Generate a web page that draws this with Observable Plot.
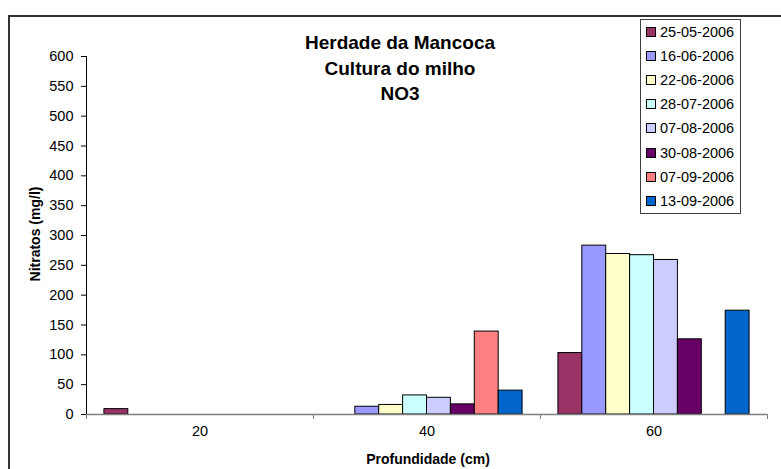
<!DOCTYPE html>
<html>
<head>
<meta charset="utf-8">
<script src="https://cdn.jsdelivr.net/npm/d3@7"></script>
<script src="https://cdn.jsdelivr.net/npm/@observablehq/plot@0.6"></script>
<style>
  html, body { margin: 0; padding: 0; background: #fff; overflow: hidden; }
  #wrap { position: relative; width: 781px; height: 469px; overflow: hidden; font-family: "Liberation Sans", Arial, sans-serif; color: #000; }
  #wrap svg { position: absolute; left: 0; top: 0; }
  .border { position: absolute; left: 8px; top: 15px; width: 900px; height: 600px; border: 2px solid #333; box-sizing: border-box; }
  .title { position: absolute; left: 250px; top: 30px; width: 300px; text-align: center; font-weight: bold; font-size: 19px; line-height: 25.5px; }
  .ylab { position: absolute; left: 34.5px; top: 234px; transform: translate(-50%, -50%) rotate(-90deg); font-weight: bold; font-size: 14px; white-space: nowrap; }
  .xlab { position: absolute; left: 428px; top: 459px; transform: translate(-50%, -50%); font-weight: bold; font-size: 14px; white-space: nowrap; }
  .legend { position: absolute; left: 640px; top: 19px; width: 101px; height: 195px; border: 1px solid #404040; box-sizing: border-box; background: #fff; }
  .item { position: absolute; left: 5px; height: 16px; display: flex; align-items: center; font-size: 14.5px; white-space: nowrap; }
  .sw { width: 8px; height: 8px; border: 1px solid #000; margin-right: 4px; }
</style>
</head>
<body>
<div id="wrap"></div>
<script>
const depths = ["20", "40", "60"];
const series = ["25-05-2006", "16-06-2006", "22-06-2006", "28-07-2006", "07-08-2006", "30-08-2006", "07-09-2006", "13-09-2006"];
const colors = ["#993366", "#9999FF", "#FFFFCC", "#CCFFFF", "#CCCCFF", "#660066", "#FF8080", "#0066CC"];
const v20 = [9, null, null, null, null, null, null, null];
const v40 = [null, 13, 16, 32, 28, 17, 139, 40];
const v60 = [103, 283, 269, 267, 259, 126, null, 174];
const yTicks = d3.range(0, 601, 50);

const rows = [];
[v20, v40, v60].forEach((vals, g) => vals.forEach((v, i) => {
  if (v != null) rows.push({depth: depths[g], g, i, series: series[i], value: v});
}));

const n = series.length, gap = 1.5; // Excel gap width 150%
const plot = Plot.plot({
  width: 781,
  height: 469,
  marginLeft: 86,
  marginRight: 14,
  marginTop: 56,
  marginBottom: 55,
  style: {fontFamily: "Liberation Sans, Arial, sans-serif", fontSize: "14.5px", background: "transparent", color: "#000"},
  x: {domain: [0, depths.length]},
  y: {domain: [0, 600]},
  color: {domain: series, range: colors},
  marks: [
    Plot.rectY(rows, {
      x1: d => d.g + (gap / 2 + d.i) / (n + gap),
      x2: d => d.g + (gap / 2 + d.i + 1) / (n + gap),
      y: "value",
      fill: "series",
      stroke: "#000",
      strokeWidth: 1
    }),
    Plot.ruleY([0], {stroke: "#808080", strokeWidth: 1.5}),
    Plot.ruleX([0], {y1: 0, y2: 600, stroke: "#000"}),
    Plot.axisY({ticks: yTicks, tickSize: 5, tickPadding: 8, label: null, stroke: "#000"}),
    Plot.axisX({ticks: d3.range(0, depths.length + 1), tickSize: 5, tickFormat: () => "", label: null, stroke: "#808080"}),
    Plot.axisX({ticks: depths.map((d, k) => k + 0.5), tickSize: 0, tickPadding: 11, tickFormat: v => depths[Math.floor(v)], label: null})
  ]
});

const wrap = document.getElementById("wrap");
const border = document.createElement("div");
border.className = "border";
wrap.appendChild(border);
wrap.appendChild(plot);

const title = document.createElement("div");
title.className = "title";
title.innerHTML = "Herdade da Mancoca<br>Cultura do milho<br>NO3";
wrap.appendChild(title);

const ylab = document.createElement("div");
ylab.className = "ylab";
ylab.textContent = "Nitratos (mg/l)";
wrap.appendChild(ylab);

const xlab = document.createElement("div");
xlab.className = "xlab";
xlab.textContent = "Profundidade (cm)";
wrap.appendChild(xlab);

const legend = document.createElement("div");
legend.className = "legend";
series.forEach((s, i) => {
  const item = document.createElement("div");
  item.className = "item";
  item.style.top = (4 + 24.1 * i) + "px";
  const sw = document.createElement("div");
  sw.className = "sw";
  sw.style.background = colors[i];
  const t = document.createElement("span");
  t.textContent = s;
  item.appendChild(sw);
  item.appendChild(t);
  legend.appendChild(item);
});
wrap.appendChild(legend);
</script>
</body>
</html>
